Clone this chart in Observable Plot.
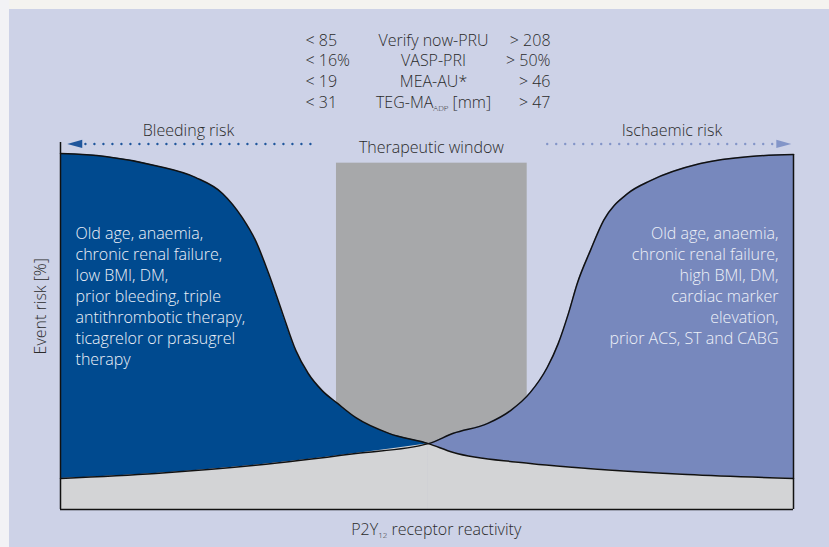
<!DOCTYPE html>
<html>
<head>
<meta charset="utf-8">
<script src="https://cdn.jsdelivr.net/npm/d3@7"></script>
<script src="https://cdn.jsdelivr.net/npm/@observablehq/plot@0.6"></script>
<style>
  html, body { margin: 0; padding: 0; background: #ffffff; }
  #chart svg { display: block; }
</style>
</head>
<body>
<div id="chart"></div>
<script>
// ---- data (x: receptor reactivity 0–100, y: event risk 0–100) ----
const bleedX = [0, 6.1, 13.0, 18.4, 22.1, 24.8, 26.6, 28.4, 30.3, 32.1, 33.8, 35.7, 37.8, 40.3, 44.8, 50.2, 53.6, 62.8, 71.9, 85.5, 100];
const bleedY = [100, 99.2, 96.6, 93.3, 88.8, 82.0, 75.6, 66.3, 55.1, 44.7, 38.2, 33.4, 29.8, 25.8, 21.4, 18.5, 16.0, 13.2, 11.5, 9.8, 8.7];
const ischX = [0, 13.0, 26.6, 40.3, 50.2, 53.6, 58.3, 61.4, 64.1, 66.4, 67.9, 69.3, 70.5, 72.3, 74.1, 77.4, 80.5, 87.3, 94.1, 100];
const ischY = [8.7, 10.1, 12.4, 15.7, 18.5, 21.4, 24.2, 27.8, 32.9, 39.9, 46.6, 55.1, 63.5, 72.8, 81.2, 88.8, 92.4, 97.2, 99.2, 99.7];
const crossX = 50.2;
const windowX = [37.65, 63.67];
const windowTop = 97.3;

const lowCut = ["< 85", "< 16%", "< 19", "< 31"];
const tests = ["Verify now-PRU", "VASP-PRI", "MEA-AU*", "TEG-MA_ADP [mm]"];
const highCut = ["> 208", "> 50%", "> 46", "> 47"];

const leftFactors = "Old age, anaemia,\nchronic renal failure,\nlow BMI, DM,\nprior bleeding, triple\nantithrombotic therapy,\nticagrelor or prasugrel\ntherapy";
const rightFactors = "Old age, anaemia,\nchronic renal failure,\nhigh BMI, DM,\ncardiac marker\nelevation,\nprior ACS, ST and CABG";

// ---- derived tables ----
const bleeding = bleedX.map((x, i) => ({x, y: bleedY[i]}));
const ischaemic = ischX.map((x, i) => ({x, y: ischY[i]}));
const rows = tests.map((t, i) => ({low: lowCut[i], test: t, high: highCut[i], y: 131.7 - i * 5.8}));

const DARK = "#004a8f", LIGHT = "#7788bd", WIN = "#a7a8aa", LOWER = "#d3d4d6";
const INK = "#2b2b2b";

const triLeft = {draw(ctx, size) { const s = Math.sqrt(size / Math.PI); ctx.moveTo(-s, 0); ctx.lineTo(s, -s * 0.55); ctx.lineTo(s, s * 0.55); ctx.closePath(); }};
const triRight = {draw(ctx, size) { const s = Math.sqrt(size / Math.PI); ctx.moveTo(s, 0); ctx.lineTo(-s, -s * 0.55); ctx.lineTo(-s, s * 0.55); ctx.closePath(); }};

const curve = "monotone-x";
const txt = {fontSize: 16, fontWeight: 300, fill: INK};

const chart = Plot.plot({
  width: 829,
  height: 547,
  marginLeft: 60,
  marginRight: 36,
  marginTop: 0,
  marginBottom: 38,
  x: {domain: [0, 100], axis: null},
  y: {domain: [0, 143], axis: null},
  style: {
    fontFamily: "'Open Sans', sans-serif",
    background: "linear-gradient(to right, #f2f2f5 9px, transparent 9px), linear-gradient(to bottom, #f4f3f0 9px, #cdd2e7 9px)",
    overflow: "visible"
  },
  marks: [
    Plot.rect([windowX], {x1: d => d[0], x2: d => d[1], y1: 0, y2: windowTop, fill: WIN}),
    Plot.areaY(bleeding, {x: "x", y: "y", fill: DARK, curve}),
    Plot.areaY(ischaemic, {x: "x", y: "y", fill: LIGHT, curve}),
    Plot.areaY(ischaemic.filter(d => d.x <= crossX), {x: "x", y: "y", fill: LOWER, curve}),
    Plot.areaY(bleeding.filter(d => d.x >= crossX), {x: "x", y: "y", fill: LOWER, curve}),
    Plot.line(bleeding, {x: "x", y: "y", stroke: "#111", strokeWidth: 1.5, curve}),
    Plot.line(ischaemic, {x: "x", y: "y", stroke: "#111", strokeWidth: 1.5, curve}),
    Plot.ruleY([0], {x1: 0, x2: 100, stroke: "#111", strokeWidth: 1.5}),
    Plot.ruleX([0], {y1: 0, y2: 103.1, stroke: "#111", strokeWidth: 1.5}),
    Plot.ruleX([100], {y1: 0, y2: 99.7, stroke: "#111", strokeWidth: 1.5}),
    // risk arrows
    Plot.link([{x1: 3.4, x2: 34.4, y: 102.7}], {x1: "x1", x2: "x2", y1: "y", y2: "y", stroke: "#1f569c", strokeWidth: 2.4, strokeDasharray: "0 9", strokeLinecap: "round"}),
    Plot.dot([{x: 1.94, y: 102.7}], {x: "x", y: "y", r: 7.5, symbol: triLeft, fill: "#1f569c", stroke: "none"}),
    Plot.link([{x1: 66.4, x2: 97.3, y: 102.7}], {x1: "x1", x2: "x2", y1: "y", y2: "y", stroke: "#8395c8", strokeWidth: 2.4, strokeDasharray: "0 9", strokeLinecap: "round"}),
    Plot.dot([{x: 98.68, y: 102.7}], {x: "x", y: "y", r: 7.5, symbol: triRight, fill: "#8395c8", stroke: "none"}),
    // labels
    Plot.text(["Bleeding risk"], {x: 17.46, y: 106.5, text: d => d, ...txt}),
    Plot.text(["Ischaemic risk"], {x: 83.42, y: 106.5, text: d => d, ...txt}),
    Plot.text(["Therapeutic window"], {x: 50.6, y: 101.7, text: d => d, ...txt}),
    Plot.text(rows, {x: 33.42, y: "y", text: "low", textAnchor: "start", ...txt}),
    Plot.text(rows, {x: 50.89, y: "y", text: "test", textAnchor: "middle", ...txt}),
    Plot.text(rows, {x: 66.85, y: "y", text: "high", textAnchor: "end", ...txt}),
    Plot.text([leftFactors], {x: 2.05, y: 60.3, text: d => d, textAnchor: "start", lineHeight: 1.3125, fontSize: 16, fontWeight: 300, fill: "#eef1f8"}),
    Plot.text([rightFactors], {x: 97.95, y: 63.15, text: d => d, textAnchor: "end", lineHeight: 1.3125, fontSize: 16, fontWeight: 300, fill: "#eef1f8"}),
    Plot.text(["Event risk [%]"], {x: -2.66, y: 57.1, text: d => d, rotate: -90, ...txt}),
    Plot.text(["P2Y_12 receptor reactivity"], {x: 51.26, y: -5.62, text: d => d, ...txt})
  ]
});

// subscripts (text stays real text)
const NS = "http://www.w3.org/2000/svg";
chart.querySelectorAll("text").forEach(t => {
  if (t.children.length === 0 && t.textContent.includes("_")) {
    const m = t.textContent.match(/^(.*?)_(\w+)(.*)$/);
    if (!m) return;
    t.textContent = "";
    const a = document.createElementNS(NS, "tspan"); a.textContent = m[1];
    const b = document.createElementNS(NS, "tspan"); b.textContent = m[2];
    b.setAttribute("font-size", "8"); b.setAttribute("dy", "3");
    const c = document.createElementNS(NS, "tspan"); c.textContent = m[3];
    c.setAttribute("dy", "-3");
    t.append(a, b, c);
  }
});

document.getElementById("chart").append(chart);
</script>
</body>
</html>
